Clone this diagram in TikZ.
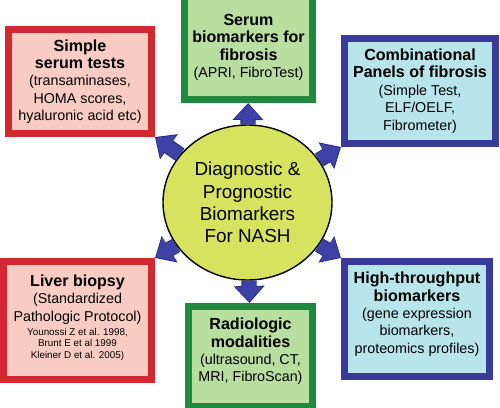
\documentclass[tikz,border=0pt]{standalone}
\usepackage{fontspec}
\setmainfont{Liberation Sans}
\usetikzlibrary{arrows.meta,shapes.geometric}
\definecolor{redline}{RGB}{212,40,46}
\definecolor{redfill}{RGB}{248,204,194}
\definecolor{greenline}{RGB}{30,138,62}
\definecolor{greenfill}{RGB}{184,222,160}
\definecolor{blueline}{RGB}{58,58,152}
\definecolor{bluefill}{RGB}{184,228,235}
\definecolor{hubfill}{RGB}{214,227,94}
\definecolor{spokefill}{RGB}{62,66,166}
\definecolor{spokeline}{RGB}{36,38,118}
\newcommand{\hd}[1]{{\fontsize{13.7pt}{15.8pt}\selectfont\bfseries #1}}
\newcommand{\refline}[1]{{\fontsize{8.4pt}{10pt}\selectfont #1}}
\newcommand{\lift}[1]{\rule[-#1]{0pt}{#1}}

\begin{document}
\begin{tikzpicture}[x=0.03cm,y=0.03cm]
  \tikzstyle{panel}=[draw, line width=6pt, align=center, inner sep=0pt,
    font=\fontsize{12.2pt}{14.8pt}\selectfont]
  \tikzstyle{spoke}=[draw=spokefill, line width=11.5pt, -{Triangle[width=23pt,length=13pt]},
    shorten >=1pt, preaction={draw=spokeline, line width=13pt,
    -{Triangle[width=25.5pt,length=14.5pt]}, shorten >=0pt}]

  \useasboundingbox (0,0) rectangle (500,407);

  % outer boxes
  \node[panel, draw=redline, fill=redfill, minimum width=4.29cm, minimum height=3.12cm] (simple) at (80,325.5)
    {\hd{Simple}\\\hd{serum tests}\\(transaminases,\\HOMA scores,\\hyaluronic acid etc)};
  \node[panel, draw=greenline, fill=greenfill, minimum width=3.84cm, minimum height=3.12cm] (serum) at (248.5,359.5)
    {\hd{Serum}\\\hd{biomarkers for}\\\hd{fibrosis}\\(APRI, FibroTest)};
  \node[panel, draw=blueline, fill=bluefill, minimum width=4.53cm, minimum height=3.15cm] (combo) at (420,316)
    {\hd{Combinational}\\\hd{Panels of fibrosis}\\(Simple Test,\\ELF/OELF,\\Fibrometer)};
  \node[panel, draw=redline, fill=redfill, minimum width=4.44cm, minimum height=3.54cm] (liver) at (77.5,86.5)
    {\hd{Liver biopsy}\\(Standardized\\Pathologic Protocol)\\[-2.8pt]\refline{Younossi Z et al. 1998,}\\[-5pt]
     \refline{Brunt E et al 1999}\\[-5pt]\refline{Kleiner D et al. 2005)\lift{7pt}}};
  \node[panel, draw=greenline, fill=greenfill, minimum width=3.72cm, minimum height=3.0cm] (radio) at (250.5,50.5)
    {\hd{Radiologic}\\\hd{modalities}\\(ultrasound, CT,\\MRI, FibroScan)\lift{11pt}};
  \node[panel, draw=blueline, fill=bluefill, minimum width=4.35cm, minimum height=3.45cm] (high) at (417,88)
    {\hd{High-throughput}\\\hd{biomarkers}\\(gene expression\\biomarkers,\\proteomics profiles)\lift{11pt}};

  % centre
  \node[ellipse, draw, line width=1.2pt, fill=hubfill, minimum width=5.07cm, minimum height=4.65cm,
    align=center, inner sep=0pt, font=\fontsize{16.1pt}{19pt}\selectfont] (hub) at (247.5,204.5)
    {Diagnostic \&\\Prognostic\\Biomarkers\\For NASH};

  % arrows out of the centre
  \draw[spoke] (hub) -- (serum);
  \draw[spoke] (hub) -- (radio);
  \draw[spoke] (hub) -- (simple.south east);
  \draw[spoke] (hub) -- (combo.south west);
  \draw[spoke] (hub) -- (liver.north east);
  \draw[spoke] (hub) -- (high.north west);
\end{tikzpicture}
\end{document}
